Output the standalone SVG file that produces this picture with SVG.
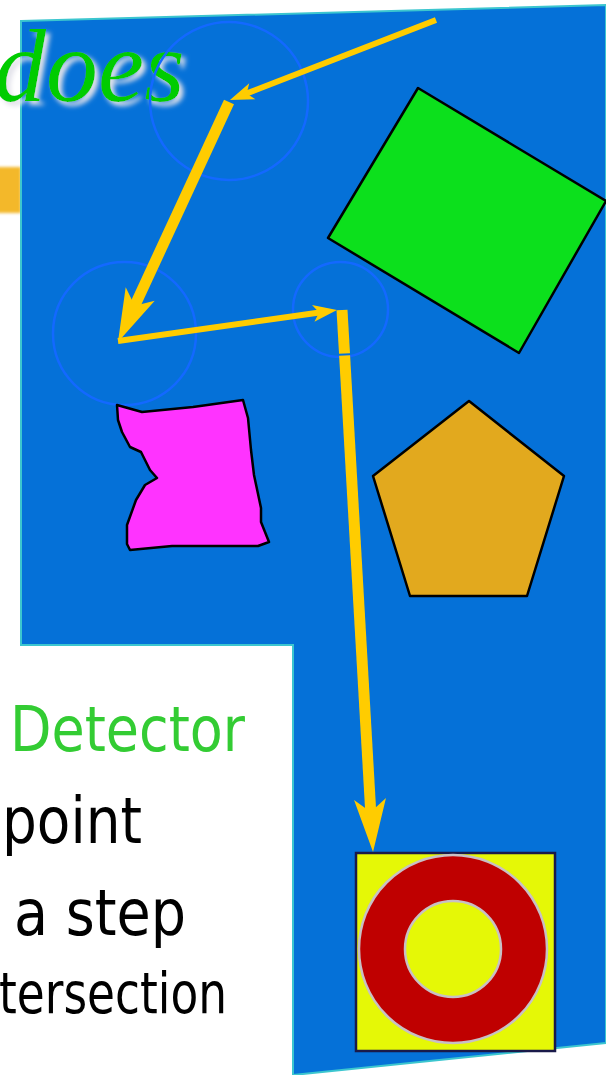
<svg xmlns="http://www.w3.org/2000/svg" width="606" height="1075" viewBox="0 0 606 1075">
<style>
.ring{fill:none;stroke:#1369ff;stroke-width:2.5}
.shape{stroke:#000;stroke-width:2.5;stroke-linejoin:round}
.thin{stroke:#ffcc00;stroke-width:6;fill:none;stroke-linecap:butt}
.thick{stroke:#ffcc00;stroke-width:11;fill:none;stroke-linecap:butt}
.body{font-family:"DejaVu Sans","Liberation Sans",sans-serif;fill:#000}
</style>
<defs>
<marker id="headS" markerUnits="userSpaceOnUse" viewBox="-26 -10 28 20" markerWidth="28" markerHeight="20" refX="-14" refY="0" orient="auto">
<path d="M0,0 L-24,-8.5 L-18,0 L-24,8.5 Z" fill="#ffcc00"/>
</marker>
<marker id="headL" markerUnits="userSpaceOnUse" viewBox="-56 -18 58 36" markerWidth="58" markerHeight="36" refX="-32" refY="0" orient="auto">
<path d="M0,0 L-53,-16 L-40,0 L-53,16 Z" fill="#ffcc00"/>
</marker>
<filter id="shadow" x="-20%" y="-20%" width="140%" height="140%">
<feGaussianBlur in="SourceAlpha" stdDeviation="2.5" result="b"/>
<feOffset in="b" dx="4" dy="4" result="o"/>
<feFlood flood-color="#e2e2ea"/>
<feComposite in2="o" operator="in" result="s"/>
<feMerge><feMergeNode in="s"/><feMergeNode in="SourceGraphic"/></feMerge>
</filter>
<filter id="blur" x="-50%" y="-50%" width="200%" height="200%">
<feGaussianBlur stdDeviation="1.5"/>
</filter>
</defs>

<g id="background">
<rect x="0" y="0" width="606" height="1075" fill="#ffffff"/>
<rect x="-4" y="167" width="25" height="46" fill="#f3b82a" filter="url(#blur)"/>
<polygon points="21,21 606,5 606,1043 293,1075 293,645 21,645" fill="#0571d8" stroke="#3cc6cf" stroke-width="2"/>
</g>

<g id="title">
<text x="-6" y="101" font-family="'Liberation Serif','Times New Roman',serif" font-style="italic" font-size="104" fill="#00cc00" filter="url(#shadow)">does</text>
</g>

<g id="circle1"><circle class="ring" cx="229" cy="101" r="79"/></g>
<g id="circle2"><circle class="ring" cx="124.5" cy="333.5" r="71.5"/></g>
<g id="circle3"><circle class="ring" cx="340.5" cy="309.5" r="47.5"/></g>

<g id="green-rect"><polygon class="shape" points="418,88 606,201 519,353 328,238" fill="#0ce01c"/></g>

<g id="pentagon"><polygon class="shape" points="469,401 564,476 527,596 410,596 373,476" fill="#e2a91e"/></g>

<g id="blob"><polygon class="shape" fill="#ff33ff" points="117,405 142,412 193,407 243,400 248,418 251,450 254,475 261,508 261,522 269,542 258,546 172,546 130,550 127,544 127,525 136,500 145,485 157,478 150,470 145,460 141,452 130,447 122,432 118,420"/></g>

<g id="target">
<rect x="356" y="853" width="199" height="198" fill="#e5f806" stroke="#1a1a4a" stroke-width="2.5"/>
<path d="M359,949 a94,94 0 1,0 188,0 a94,94 0 1,0 -188,0 Z M405,949 a48,48 0 1,0 96,0 a48,48 0 1,0 -96,0 Z" fill="#bf0000" fill-rule="evenodd" stroke="#c8c0c4" stroke-width="2.5"/>
</g>

<g id="connectors">
<line class="thin" x1="436" y1="20" x2="243" y2="94.9" marker-end="url(#headS)"/>
<line class="thick" x1="229" y1="102" x2="131.4" y2="313" marker-end="url(#headL)"/>
<line class="thin" x1="118" y1="341" x2="323.1" y2="312" marker-end="url(#headS)"/>
<line class="thick" x1="342" y1="310" x2="344.5" y2="353.5"/>
<line class="thick" x1="344.6" y1="355.5" x2="371.2" y2="820" marker-end="url(#headL)"/>
</g>

<g id="texts">
<text x="10" y="751" font-family="'DejaVu Sans','Liberation Sans',sans-serif" font-size="63" fill="#33cc33" textLength="235" lengthAdjust="spacingAndGlyphs">Detector</text>
<text class="body" x="2" y="843" font-size="64" textLength="140" lengthAdjust="spacingAndGlyphs">point</text>
<text class="body" x="14" y="935" font-size="64" textLength="172" lengthAdjust="spacingAndGlyphs">a step</text>
<text class="body" x="-1" y="1013" font-size="57" textLength="228" lengthAdjust="spacingAndGlyphs">tersection</text>
</g>
</svg>
